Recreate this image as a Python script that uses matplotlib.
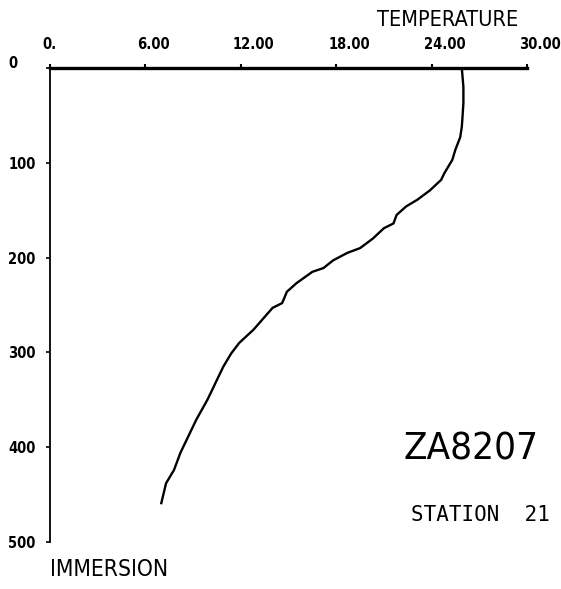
import matplotlib
matplotlib.use("Agg")
import matplotlib.pyplot as plt
import matplotlib.transforms as mtransforms

# Temperature profile, station 21 (cruise ZA8207)
depth_m = [0, 20, 37, 50, 62, 73, 86, 97, 111, 118, 129, 139, 146, 155, 164,
           169, 180, 190, 195, 203, 211, 215, 227, 236, 248, 253, 276, 290,
           301, 315, 336, 350, 371, 385, 406, 424, 438, 459]
temp_c = [25.9, 26.0, 26.0, 25.95, 25.9, 25.8, 25.5, 25.3, 24.8, 24.6, 23.9,
          23.1, 22.4, 21.8, 21.6, 21.0, 20.3, 19.5, 18.7, 17.8, 17.2, 16.5,
          15.5, 14.9, 14.6, 14.0, 12.8, 11.9, 11.4, 10.9, 10.3, 9.9, 9.2, 8.8,
          8.2, 7.8, 7.3, 7.0]

x_ticks = [0, 6, 12, 18, 24, 30]
x_labels = ["0.", "6.00", "12.00", "18.00", "24.00", "30.00"]
y_ticks = [0, 100, 200, 300, 400, 500]
y_labels = ["0", "100", "200", "300", "400", "500"]

# condensed DejaVu is the closest thing to the old plotter lettering
font = dict(fontfamily="DejaVu Sans", fontstretch="condensed")

W, H = 561, 589
fig = plt.figure(figsize=(W / 100, H / 100), dpi=100)
ax = fig.add_axes([50 / W, 1 - 542 / H, (527 - 50) / W, (542 - 68) / H])

ax.plot(temp_c, depth_m, color="black", lw=1.7)

ax.set_xlim(0, 30)
ax.set_ylim(500, 0)

for s in ("right", "bottom"):
    ax.spines[s].set_visible(False)
ax.spines["top"].set_linewidth(2.4)
ax.spines["left"].set_linewidth(1.3)

ax.xaxis.tick_top()
ax.set_xticks(x_ticks)
ax.set_xticklabels(x_labels, fontweight="bold", fontsize=10.5, **font)
ax.tick_params(axis="x", direction="out", length=3, width=1.5, pad=8.5)
off = mtransforms.ScaledTranslation(-8 / 100, 0, fig.dpi_scale_trans)
for lab in ax.get_xticklabels():
    lab.set_horizontalalignment("left")
    lab.set_transform(lab.get_transform() + off)

ax.set_yticks(y_ticks)
ax.set_yticklabels(y_labels, fontweight="bold", fontsize=10.5, **font)
ax.tick_params(axis="y", direction="out", length=3, width=1.2, pad=27)
for lab in ax.get_yticklabels():
    lab.set_horizontalalignment("left")
ax.get_yticklabels()[0].set_transform(
    ax.get_yticklabels()[0].get_transform()
    + mtransforms.ScaledTranslation(0, 6 / 100, fig.dpi_scale_trans))

fig.text(377 / W, 1 - 20 / H, "TEMPERATURE", fontsize=15.6,
         ha="left", va="center", **font)
fig.text(50 / W, 1 - 569 / H, "IMMERSION", fontsize=16.3,
         ha="left", va="center", **font)
fig.text(471 / W, 1 - 449 / H, "ZA8207", fontsize=27.6,
         ha="center", va="center", **font)
fig.text(480 / W, 1 - 515 / H, "STATION  21", fontfamily="DejaVu Sans Mono",
         fontsize=15, ha="center", va="center")

fig.savefig("out.png", dpi=100)
